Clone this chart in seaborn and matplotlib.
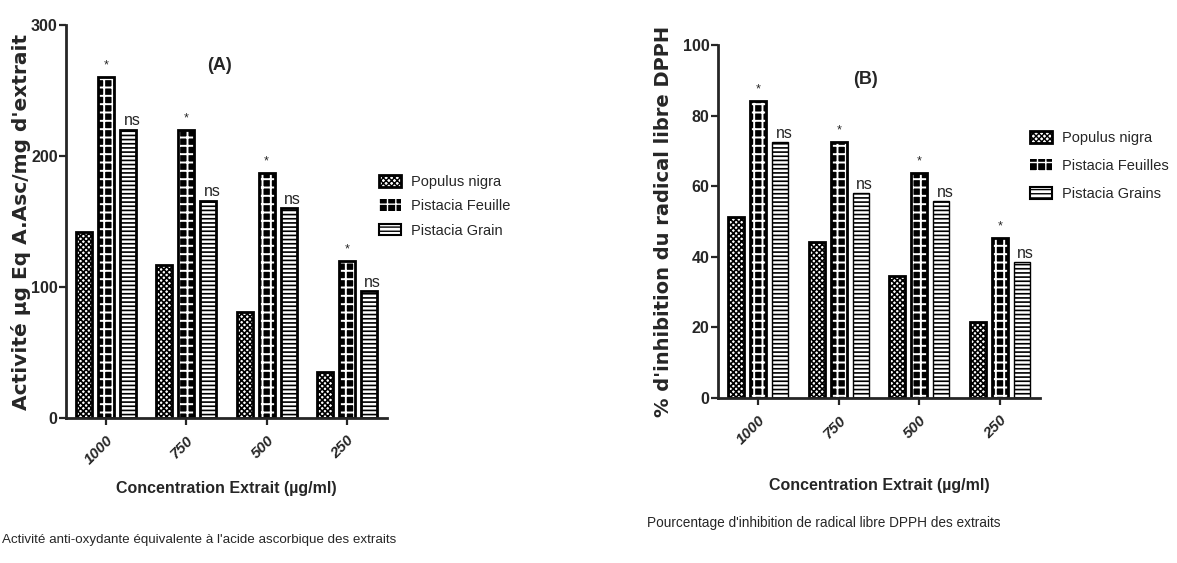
import pandas as pd
import matplotlib
matplotlib.use('Agg')
import matplotlib.pyplot as plt
import matplotlib.patches as mpatches
import seaborn as sns

# données
concentrations = ['1000', '750', '500', '250']

noms_A = ['Populus nigra', 'Pistacia Feuille', 'Pistacia Grain']
populus_A = [142, 117, 81, 35]
feuille_A = [260, 220, 187, 120]
grain_A = [220, 166, 160, 97]

noms_B = ['Populus nigra', 'Pistacia Feuilles', 'Pistacia Grains']
populus_B = [51.3, 44.2, 34.6, 21.6]
feuille_B = [84.0, 72.6, 63.7, 45.3]
grain_B = [72.5, 58.0, 55.8, 38.5]

signif = ['*', 'ns']  # au-dessus de Feuille / Grain

sns.set_style('ticks')
narrow = ['Liberation Sans', 'DejaVu Sans']
wide = ['DejaVu Sans']
plt.rcParams['font.family'] = narrow

W, H = 1177, 563
fig = plt.figure(figsize=(W / 100, H / 100), dpi=100)


def to_df(noms, series):
    rows = []
    for nom, vals in zip(noms, series):
        for c, v in zip(concentrations, vals):
            rows.append({'conc': c, 'val': v, 'extrait': nom})
    return pd.DataFrame(rows)


def hatch_lw(p, lw):
    if hasattr(p, 'set_hatch_linewidth'):
        p.set_hatch_linewidth(lw)


def panel(rect, noms, series, ylim, yticks, ylabel, grain_lw, xpad, ypad, ysize):
    ax = fig.add_axes(rect)
    df = to_df(noms, series)
    sns.barplot(data=df, x='conc', y='val', hue='extrait', order=concentrations,
                hue_order=noms, width=0.82, gap=0.27, palette=['white'] * 3,
                saturation=1, edgecolor='black', linewidth=2, legend=False, ax=ax)
    cont = ax.containers
    # Populus : damier fin
    for b in cont[0]:
        b.set_hatch('xxxxxx')
        hatch_lw(b, 1.2)
    # Feuille : gros damier (grille blanche sur fond noir + contour noir)
    for b in cont[1]:
        b.set_facecolor('black')
        b.set_edgecolor('white')
        b.set_linewidth(0)
        b.set_hatch('++')
        hatch_lw(b, 1.4)
        ax.add_patch(mpatches.Rectangle((b.get_x(), b.get_y()), b.get_width(), b.get_height(),
                                        fill=False, edgecolor='black', linewidth=2,
                                        zorder=b.get_zorder() + 0.1))
    # Grain : lignes horizontales
    for b in cont[2]:
        b.set_hatch('----')
        b.set_linewidth(grain_lw)
        hatch_lw(b, 1.2)

    for b in cont[1]:
        ax.annotate(signif[0], (b.get_x() + b.get_width() / 2, b.get_height()),
                    xytext=(0, 4), textcoords='offset points', ha='center', va='bottom',
                    fontsize=9, family=narrow)
    for b in cont[2]:
        ax.annotate(signif[1], (b.get_x() + b.get_width() * 0.75, b.get_height()),
                    xytext=(0, 1), textcoords='offset points', ha='center', va='bottom',
                    fontsize=11.5, family=narrow)

    ax.set_ylim(*ylim)
    ax.set_yticks(yticks)
    ax.set_xlim(-0.5, 3.5)
    sns.despine(ax=ax)
    for s in ['left', 'bottom']:
        ax.spines[s].set_linewidth(2)
    ax.tick_params(axis='both', width=1.6, length=5, pad=1)
    for t in ax.get_yticklabels():
        t.set_fontweight('bold')
        t.set_fontsize(11.5)
        t.set_family(narrow)
    ax.set_xticks(range(len(concentrations)))
    ax.set_xticklabels(concentrations, rotation=45, ha='right', rotation_mode='anchor',
                       fontsize=11, fontweight='bold', fontstyle='italic', family=narrow)
    ax.tick_params(axis='x', pad=6)
    ax.set_xlabel('Concentration Extrait (µg/ml)', fontsize=11.5, fontweight='bold',
                  family=narrow, labelpad=xpad)
    ax.set_ylabel(ylabel, fontsize=ysize, fontweight='bold', family=wide, labelpad=ypad)
    return ax


axA = panel([66 / W, 1 - 418 / H, 321 / W, 393 / H], noms_A,
            [populus_A, feuille_A, grain_A], (0, 300), [0, 100, 200, 300],
            "Activité µg Eq A.Asc/mg d'extrait", 2, 10, 0, 14.5)
axB = panel([718 / W, 1 - 398 / H, 322 / W, 353 / H], noms_B,
            [populus_B, feuille_B, grain_B], (0, 100), [0, 20, 40, 60, 80, 100],
            "% d'inhibition du radical libre DPPH", 1, 22, 7, 14)

fig.text(220 / W, 1 - 65 / H, '(A)', ha='center', va='center', fontsize=13,
         fontweight='bold', family=narrow)
fig.text(866 / W, 1 - 80 / H, '(B)', ha='center', va='center', fontsize=13,
         fontweight='bold', family=narrow)


def handles():
    return [mpatches.Patch(facecolor='white', edgecolor='black', hatch='xxxxxx', linewidth=2),
            mpatches.Patch(facecolor='black', edgecolor='white', hatch='++', linewidth=0),
            mpatches.Patch(facecolor='white', edgecolor='black', hatch='----', linewidth=1.5)]


fig.legend(handles(), noms_A, loc='upper left', bbox_to_anchor=(366 / W, 1 - 162 / H),
           frameon=False, fontsize=10.5, handlelength=1.5, handleheight=0.85,
           handletextpad=0.7, labelspacing=0.7)
fig.legend(handles(), noms_B, loc='upper left', bbox_to_anchor=(1017 / W, 1 - 118 / H),
           frameon=False, fontsize=10.5, handlelength=1.5, handleheight=0.85,
           handletextpad=0.7, labelspacing=0.95)

fig.text(2 / W, 1 - 540 / H, "Activité anti-oxydante équivalente à l'acide ascorbique des extraits",
         ha='left', va='center', fontsize=9.6, family=narrow)
fig.text(824 / W, 1 - 523 / H, "Pourcentage d'inhibition de radical libre DPPH des extraits",
         ha='center', va='center', fontsize=9.8, family=narrow)

fig.savefig('out.png', dpi=100)
